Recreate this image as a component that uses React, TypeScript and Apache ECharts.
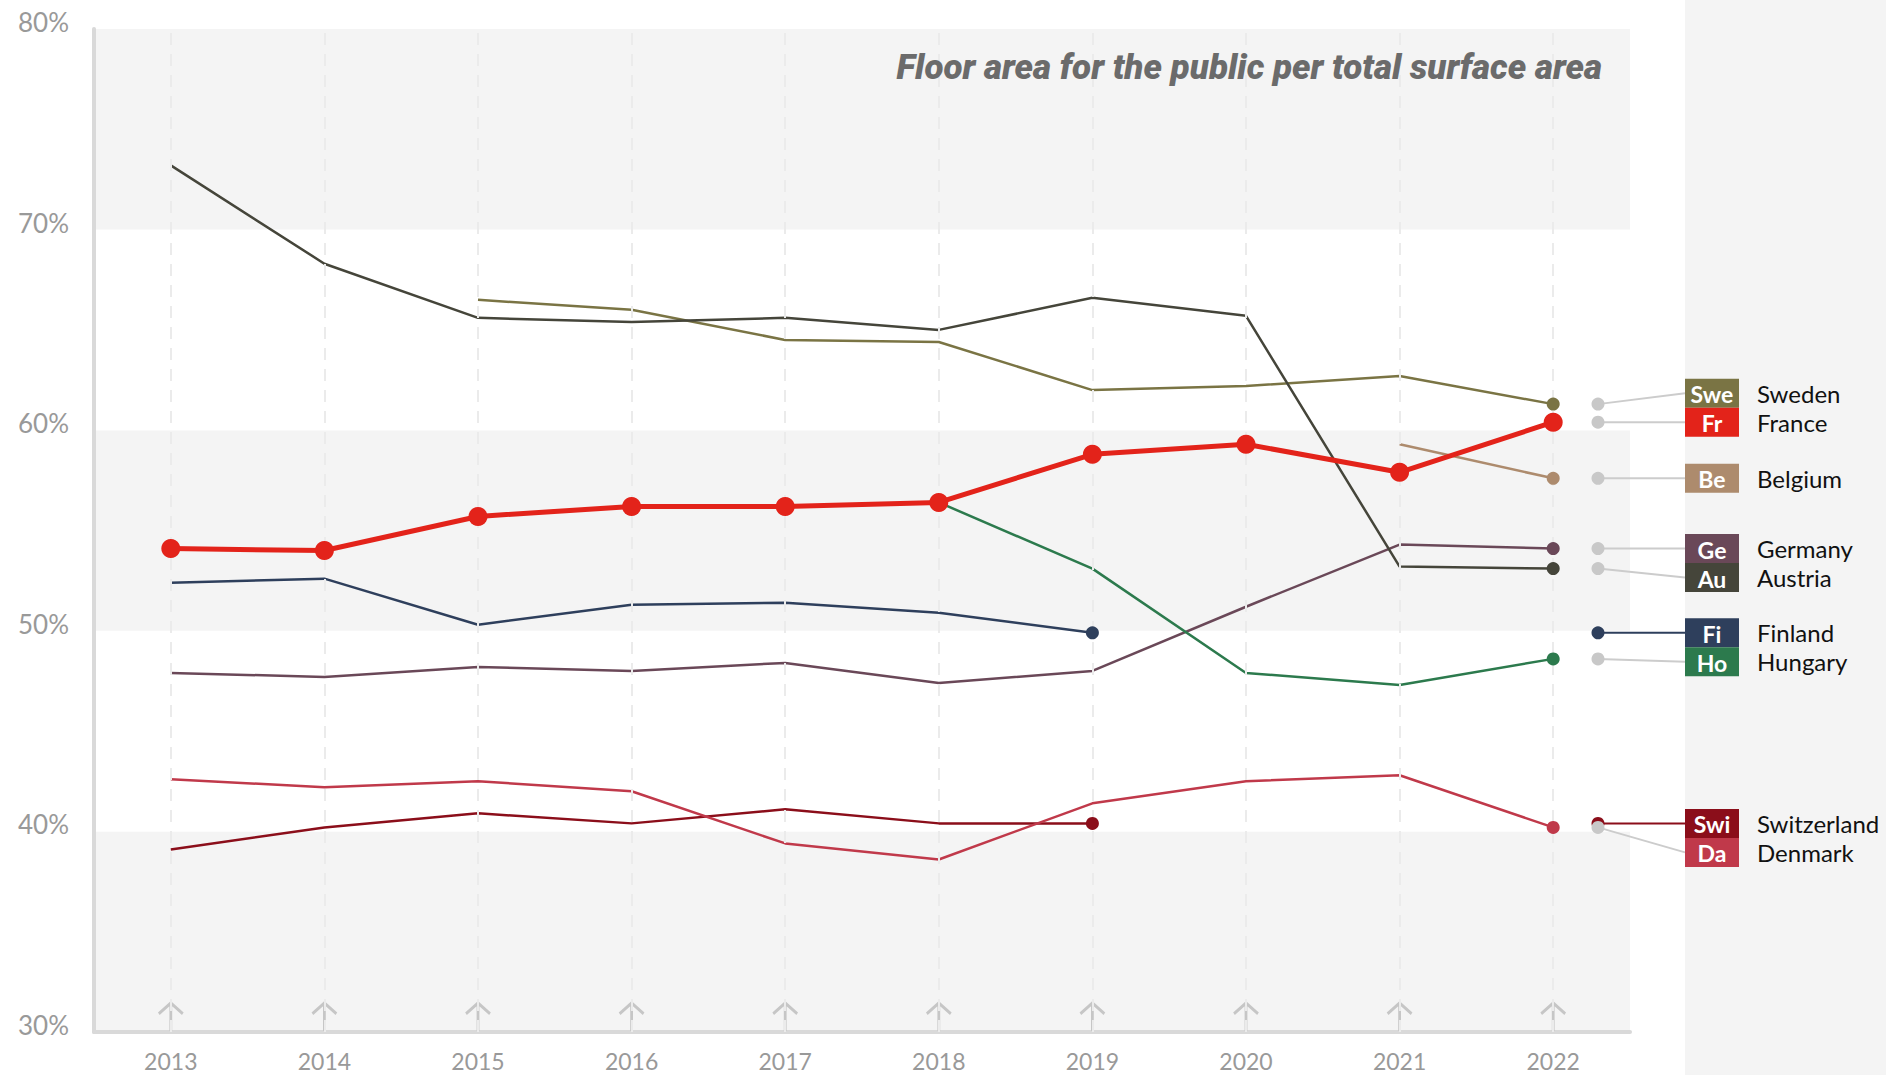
import React, { useEffect, useRef } from "react";
import * as echarts from "echarts";

const YEARS = ["2013", "2014", "2015", "2016", "2017", "2018", "2019", "2020", "2021", "2022"];
const Y_TICKS = [30, 40, 50, 60, 70, 80];

const SWEDEN = [null, null, 66.5, 66.0, 64.5, 64.4, 62.0, 62.2, 62.7, 61.3];
const FRANCE = [54.1, 54.0, 55.7, 56.2, 56.2, 56.4, 58.8, 59.3, 57.9, 60.4];
const BELGIUM = [null, null, null, null, null, null, null, null, 59.3, 57.6];
const GERMANY = [47.9, 47.7, 48.2, 48.0, 48.4, 47.4, 48.0, 51.2, 54.3, 54.1];
const AUSTRIA = [73.2, 68.3, 65.6, 65.4, 65.6, 65.0, 66.6, 65.7, 53.2, 53.1];
const FINLAND = [52.4, 52.6, 50.3, 51.3, 51.4, 50.9, 49.9, null, null, null];
const HUNGARY = [null, null, null, null, null, 56.4, 53.1, 47.9, 47.3, 48.6];
const SWITZERLAND = [39.1, 40.2, 40.9, 40.4, 41.1, 40.4, 40.4, null, null, null];
const DENMARK = [42.6, 42.2, 42.5, 42.0, 39.4, 38.6, 41.4, 42.5, 42.8, 40.2];

const COUNTRIES = [
  { name: "Sweden", code: "Swe", color: "#7a7444", data: SWEDEN },
  { name: "France", code: "Fr", color: "#e3231a", data: FRANCE, highlight: true },
  { name: "Belgium", code: "Be", color: "#ad8b6d", data: BELGIUM },
  { name: "Germany", code: "Ge", color: "#6a4858", data: GERMANY },
  { name: "Austria", code: "Au", color: "#45453a", data: AUSTRIA },
  { name: "Finland", code: "Fi", color: "#2e3f5c", data: FINLAND },
  { name: "Hungary", code: "Ho", color: "#2c7a4d", data: HUNGARY },
  { name: "Switzerland", code: "Swi", color: "#8b0e1a", data: SWITZERLAND },
  { name: "Denmark", code: "Da", color: "#c0394a", data: DENMARK },
];

const TITLE = "Floor area for the public per total surface area";

const FONT = "Lato, 'Noto Sans', sans-serif";

function lastIndex(arr: (number | null)[]) {
  let idx = -1;
  arr.forEach((v, i) => {
    if (v !== null) idx = i;
  });
  return idx;
}

export default function App() {
  const ref = useRef<HTMLDivElement>(null);

  useEffect(() => {
    document.body.style.margin = "0";
    if (!ref.current) return;
    const chart = echarts.init(ref.current, null, { renderer: "svg" });

    const lineSeries: any[] = [];
    COUNTRIES.forEach((c) => {
      lineSeries.push({
        type: "line",
        name: c.name,
        z: c.highlight ? 10 : 4,
        connectNulls: false,
        symbol: c.highlight ? "circle" : "none",
        symbolSize: 19,
        showSymbol: !!c.highlight,
        showAllSymbol: true,
        lineStyle: { color: c.color, width: c.highlight ? 5 : 2.5 },
        itemStyle: { color: c.color, borderWidth: 0, opacity: 1 },
        emphasis: { disabled: true },
        data: c.data,
      });
      if (!c.highlight) {
        const li = lastIndex(c.data);
        lineSeries.push({
          type: "scatter",
          name: c.name + " end",
          z: 5,
          symbol: "circle",
          symbolSize: 13,
          itemStyle: { color: c.color, opacity: 1 },
          emphasis: { disabled: true },
          data: [[YEARS[li], c.data[li]]],
        });
      }
    });

    chart.setOption({
      animation: false,
      grid: { left: 94, right: 256, top: 29, bottom: 43 },
      xAxis: {
        type: "category",
        data: YEARS,
        boundaryGap: true,
        axisLine: { show: true, lineStyle: { color: "#d9d9d9", width: 4 } },
        axisTick: { show: false },
        axisLabel: { color: "#999999", fontSize: 23, fontFamily: FONT, margin: 17 },
        splitLine: { show: false },
      },
      yAxis: {
        type: "value",
        min: 30,
        max: 80,
        interval: 10,
        axisLine: { show: true, lineStyle: { color: "#d9d9d9", width: 4 } },
        axisTick: { show: false },
        axisLabel: {
          color: "#999999",
          fontSize: 26,
          fontFamily: FONT,
          margin: 25,
          verticalAlign: "bottom",
          lineHeight: 14,
          formatter: (v: number) => (Y_TICKS.includes(v) ? v + "%" : ""),
        },
        splitLine: { show: false },
        splitArea: { show: true, areaStyle: { color: ["#f4f4f4", "#ffffff"] } },
      },
      series: [
        {
          type: "scatter",
          z: 1,
          silent: true,
          symbol: "path://M0,10 L10,0 L20,10 M10,0 L10,26",
          symbolSize: [24, 28],
          symbolOffset: [0, -15],
          itemStyle: { color: "rgba(0,0,0,0)", borderColor: "#c6c6c6", borderWidth: 3, opacity: 1 },
          data: YEARS.map((y) => [y, 30]),
          markLine: {
            silent: true,
            symbol: ["none", "none"],
            label: { show: false },
            lineStyle: { color: "#ebebeb", type: [12, 9], width: 2 },
            data: YEARS.map((y) => ({ xAxis: y })),
          },
        },
        ...lineSeries,
      ],
    });

    // Right-side legend, positioned from the data via the axis scale
    const yPix = (v: number) => chart.convertToPixel({ yAxisIndex: 0 }, v) as number;
    const items = COUNTRIES.map((c) => {
      const li = lastIndex(c.data);
      const last = c.data[li] as number;
      return { ...c, last, ended: li < YEARS.length - 1, dotY: yPix(last), labelY: yPix(last) };
    });
    const sorted = [...items].sort((a, b) => a.dotY - b.dotY);
    const GAP = 29;
    const pivot = sorted.findIndex((s) => s.highlight);
    for (let i = pivot - 1; i >= 0; i--) {
      sorted[i].labelY = Math.min(sorted[i].labelY, sorted[i + 1].labelY - GAP);
    }
    for (let i = pivot + 1; i < sorted.length; i++) {
      sorted[i].labelY = Math.max(sorted[i].labelY, sorted[i - 1].labelY + GAP);
    }

    const DOT_X = 1598;
    const BOX_X = 1685;
    const BOX_W = 54;
    const graphics: any[] = [
      {
        type: "rect",
        z: 0,
        shape: { x: 1685, y: 0, width: 201, height: 1075 },
        style: { fill: "#f4f4f4" },
        silent: true,
      },
      {
        type: "text",
        z: 20,
        x: 1602,
        y: 67,
        style: {
          text: TITLE,
          fill: "#6b6b6b",
          font: "italic 900 35px Roboto, 'Open Sans', sans-serif",
          textAlign: "right",
          textVerticalAlign: "middle",
        },
      },
    ];
    sorted.forEach((s) => {
      const connColor = s.ended ? s.color : "#cccccc";
      graphics.push({
        type: "line",
        z: 15,
        shape: { x1: DOT_X, y1: s.dotY, x2: BOX_X, y2: s.labelY },
        style: { stroke: connColor, lineWidth: 2 },
      });
      graphics.push({
        type: "circle",
        z: 16,
        shape: { cx: DOT_X, cy: s.dotY, r: 6.5 },
        style: { fill: s.ended ? s.color : "#c8c8c8" },
      });
      graphics.push({
        type: "rect",
        z: 17,
        shape: { x: BOX_X, y: s.labelY - GAP / 2, width: BOX_W, height: GAP },
        style: { fill: s.color },
      });
      graphics.push({
        type: "text",
        z: 18,
        x: BOX_X + BOX_W / 2,
        y: s.labelY + 1,
        style: {
          text: s.code,
          fill: "#ffffff",
          font: "bold 23px " + FONT,
          textAlign: "center",
          textVerticalAlign: "middle",
        },
      });
      graphics.push({
        type: "text",
        z: 18,
        x: 1757,
        y: s.labelY,
        style: {
          text: s.name,
          fill: "#111111",
          font: "24px " + FONT,
          textAlign: "left",
          textVerticalAlign: "middle",
        },
      });
    });
    chart.setOption({ graphic: graphics });

    return () => chart.dispose();
  }, []);

  return <div ref={ref} style={{ width: 1886, height: 1075 }} />;
}
